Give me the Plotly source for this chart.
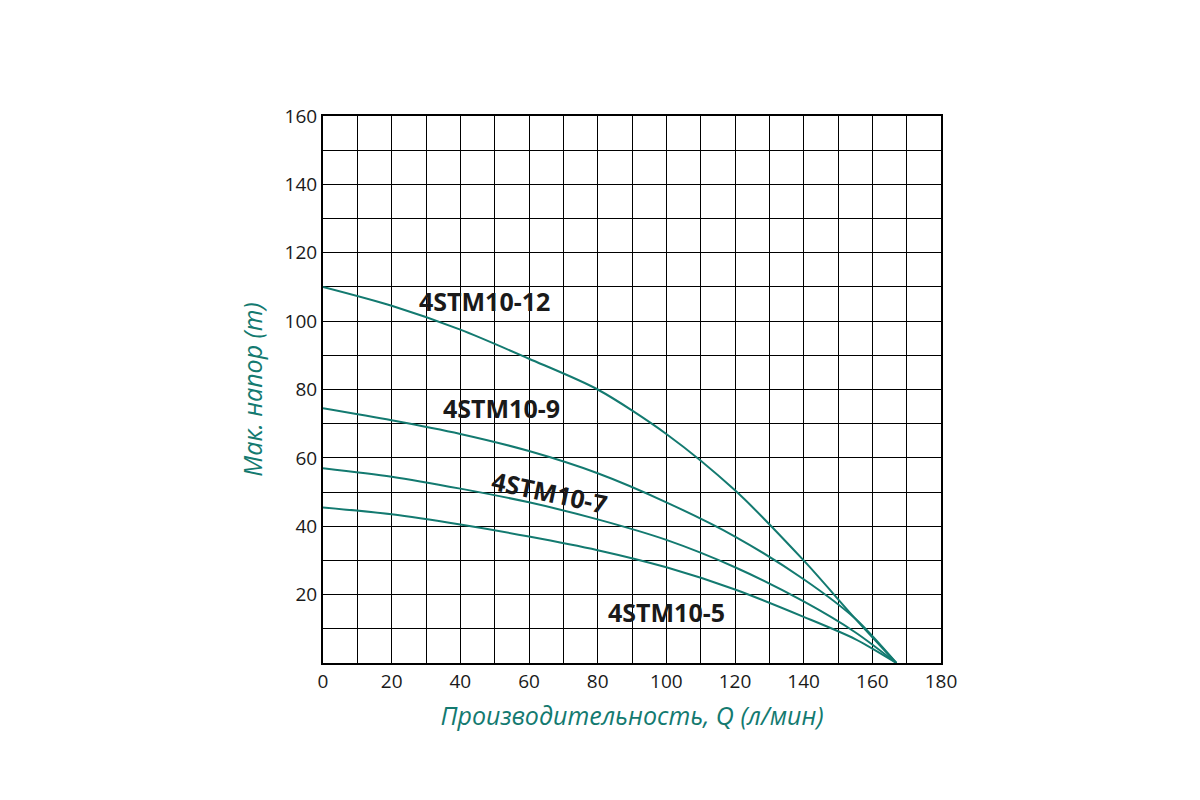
import plotly.graph_objects as go

q = [0, 20, 40, 60, 80, 100, 120, 140, 155, 167]
h12 = [110, 104.5, 97.5, 89, 80, 67, 50.5, 30, 13, 0]
h9 = [74.5, 71, 67, 62, 55.5, 47, 37, 24.5, 13, 0]
h7 = [57, 54.5, 51, 47, 42, 36, 28, 18, 9, 0]
h5 = [45.5, 43.5, 40.5, 37, 33, 28, 21.5, 13.5, 7, 0]
names = ["4STM10-12", "4STM10-9", "4STM10-7", "4STM10-5"]
label_x = [47, 52, 66, 100]
label_y = [106, 74.5, 50, 15]
label_angle = [0, 0, 12, 0]

teal = "#137a70"
fig = go.Figure()
for h in [h12, h9, h7, h5]:
    fig.add_trace(go.Scatter(x=q, y=h, mode="lines", line=dict(color=teal, width=2, shape="spline", smoothing=0.8),
                             showlegend=False, hoverinfo="skip"))

for n, x, y, a in zip(names, label_x, label_y, label_angle):
    fig.add_annotation(x=x, y=y, text="<b>" + n + "</b>", showarrow=False, textangle=a,
                       font=dict(size=25, color="#1a1a1a", family="Open Sans"))

fig.update_xaxes(range=[0, 180], tickvals=list(range(0, 181, 20)),
                 showgrid=True, gridcolor="black", gridwidth=1, showline=True, linecolor="black",
                 linewidth=2, mirror=True, ticks="", zeroline=False,
                 title=dict(text="<i>Производительность, Q (л/мин)</i>", font=dict(size=25, color=teal)),
                 tickfont=dict(size=19, color="#1a1a1a"),
                 minor=dict(dtick=10, showgrid=True, gridcolor="black", gridwidth=1))
fig.update_yaxes(range=[0, 160], tickvals=list(range(20, 161, 20)),
                 showgrid=True, gridcolor="black", gridwidth=1, showline=True, linecolor="black",
                 linewidth=2, mirror=True, ticks="", zeroline=False,
                 title=dict(text="<i>Мак. напор (m)</i>", font=dict(size=25, color=teal)),
                 tickfont=dict(size=19, color="#1a1a1a"),
                 minor=dict(dtick=10, showgrid=True, gridcolor="black", gridwidth=1))

fig.update_layout(width=1200, height=800, plot_bgcolor="white", paper_bgcolor="white",
                  margin=dict(l=315, r=267, t=108, b=145),
                  font=dict(family="Open Sans"))
fig.write_html("out.html")
